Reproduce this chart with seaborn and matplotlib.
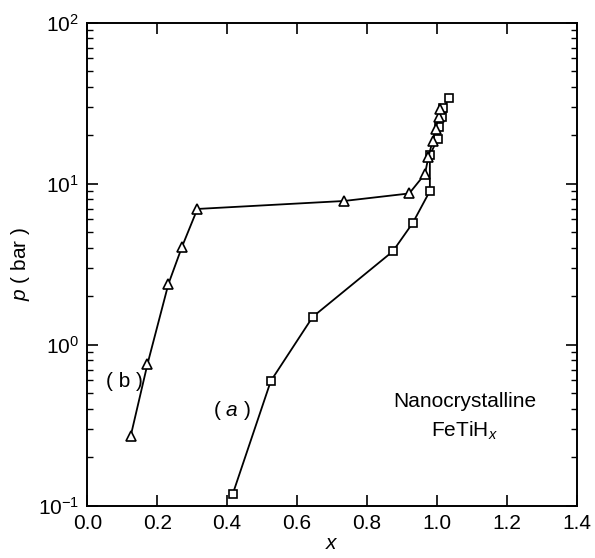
import numpy as np
import pandas as pd
import matplotlib
matplotlib.use("Agg")
import matplotlib.pyplot as plt
import seaborn as sns
from matplotlib.ticker import LogLocator, MultipleLocator

#%% Data

# curve (a): squares
x_a = [0.416, 0.525, 0.645, 0.874, 0.931, 0.980, 0.980, 1.002, 1.006, 1.014, 1.019, 1.035]
p_a = [0.118, 0.595, 1.49, 3.8, 5.7, 9.0, 15.0, 19.0, 22.5, 26.0, 29.5, 34.0]

# curve (b): triangles
x_b = [0.124, 0.172, 0.232, 0.271, 0.315, 0.734, 0.921, 0.966, 0.976, 0.988, 0.997, 1.005, 1.010]
p_b = [0.27, 0.755, 2.38, 4.06, 6.97, 7.81, 8.7, 11.5, 14.7, 18.5, 22.0, 26.0, 29.0]

df_a = pd.DataFrame({'x': x_a, 'p': p_a})
df_b = pd.DataFrame({'x': x_b, 'p': p_b})

#%% Plot

sns.set_style("ticks")
plt.rcParams['font.family'] = ['Liberation Sans', 'DejaVu Sans']
plt.rcParams['mathtext.fontset'] = 'custom'
plt.rcParams['mathtext.rm'] = 'Liberation Sans'
plt.rcParams['mathtext.it'] = 'Liberation Sans:italic'
plt.rcParams['text.color'] = 'black'
plt.rcParams['axes.labelcolor'] = 'black'

fig = plt.figure(figsize=(5.95, 5.58), dpi=100)
ax = fig.add_axes([0.1467, 0.0937, 0.8225, 0.8656])

sns.lineplot(data=df_a, x='x', y='p', sort=False, estimator=None, ax=ax,
             color='black', lw=1.3, marker='s', ms=6, mfc='white', mec='black', mew=1.2)
sns.lineplot(data=df_b, x='x', y='p', sort=False, estimator=None, ax=ax,
             color='black', lw=1.3, marker='^', ms=7, mfc='white', mec='black', mew=1.2)

ax.set_yscale('log')
ax.set_xlim(0.0, 1.4)
ax.set_ylim(0.1, 100)
ax.yaxis.set_major_locator(LogLocator(base=10))
ax.yaxis.set_minor_locator(LogLocator(base=10, subs=np.arange(2, 10)))
ax.set_xticks(np.arange(0, 1.41, 0.2))
ax.set_xticklabels([f'{v:.1f}' for v in np.arange(0, 1.41, 0.2)])

ax.tick_params(which='both', direction='in', top=True, right=True, labelsize=15, colors='black')
ax.tick_params(which='major', length=8, width=1.2, pad=6)
ax.tick_params(which='minor', length=4, width=1.0)
for s in ax.spines.values():
    s.set_linewidth(1.4)
    s.set_color('black')

ax.set_xlabel('$x$', fontsize=15, labelpad=1)
ax.set_ylabel('$p$ ( bar )', fontsize=15, labelpad=4)

ax.text(0.105, 0.59, '( b )', fontsize=15, ha='center', va='center')
ax.text(0.413, 0.393, '( $a$ )', fontsize=15, ha='center', va='center')
ax.text(1.08, 0.445, 'Nanocrystalline', fontsize=15, ha='center', va='center')
ax.text(1.08, 0.29, 'FeTiH$_x$', fontsize=15, ha='center', va='center')

fig.savefig('out.png', dpi=100)
